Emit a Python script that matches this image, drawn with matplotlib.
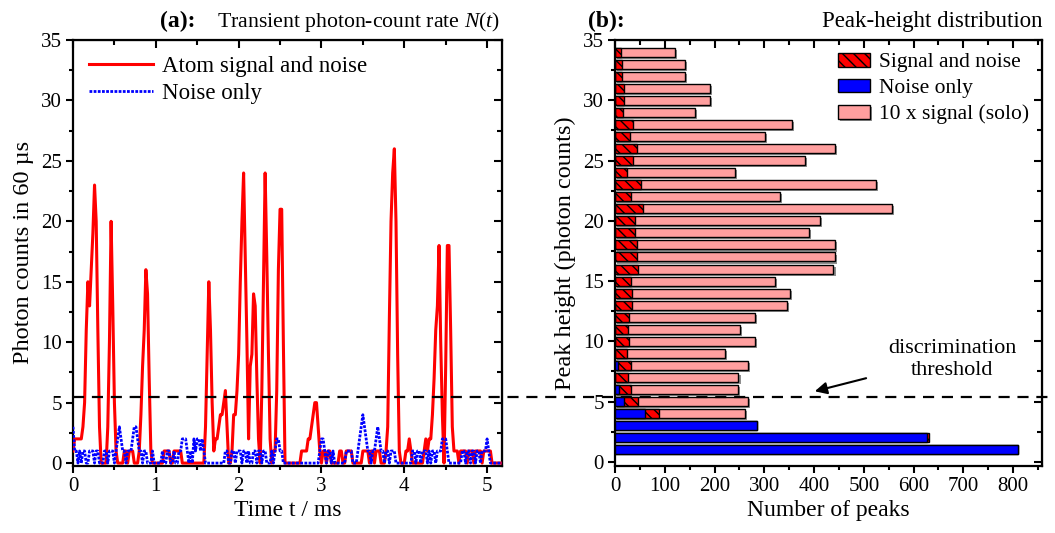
import numpy as np
import matplotlib
matplotlib.use('Agg')
import matplotlib.pyplot as plt
import matplotlib.patheffects as pe
import matplotlib.transforms as mtransforms
from matplotlib.lines import Line2D
from matplotlib.ticker import MultipleLocator

plt.rcParams['font.family'] = ['Liberation Serif', 'DejaVu Serif']
plt.rcParams['mathtext.fontset'] = 'custom'
plt.rcParams['mathtext.rm'] = 'Liberation Serif'
plt.rcParams['mathtext.it'] = 'Liberation Serif:italic'
plt.rcParams['hatch.linewidth'] = 1.0

# ---- panel (a): photon counts per 60 us window, sampled every 20 us ----
dt = 0.02  # ms
atom_counts = [
    1, 2, 2, 2, 2, 2, 3, 5, 11, 15, 13, 16, 19, 23, 20, 11, 3, 0, 0, 0,
    0, 3, 10, 20, 13, 5, 1, 0, 0, 0, 0, 1, 1, 0, 1, 1, 1, 0, 0, 0,
    1, 4, 8, 11, 16, 14, 7, 1, 0, 0, 0, 0, 0, 0, 0, 1, 1, 1, 1, 0,
    0, 1, 1, 1, 1, 1, 0, 0, 0, 0, 0, 0, 0, 0, 0, 0, 0, 0, 0, 0,
    3, 9, 15, 11, 5, 1, 2, 2, 3, 4, 4, 5, 6, 3, 0, 0, 1, 4, 4, 6,
    9, 15, 20, 24, 17, 10, 2, 8, 9, 14, 13, 7, 2, 0, 6, 15, 24, 17, 9, 2,
    0, 1, 1, 6, 16, 21, 21, 10, 0, 0, 0, 0, 0, 0, 0, 0, 0, 0, 1, 1,
    1, 1, 2, 2, 3, 4, 5, 5, 3, 1, 0, 1, 1, 0, 1, 1, 0, 0, 0, 0,
    0, 1, 1, 0, 0, 1, 1, 1, 1, 0, 0, 0, 0, 0, 0, 1, 1, 1, 1, 0,
    1, 1, 0, 1, 1, 1, 0, 0, 0, 1, 3, 12, 20, 24, 26, 20, 9, 1, 0, 0,
    0, 1, 1, 2, 1, 0, 0, 0, 0, 0, 0, 0, 1, 2, 1, 2, 2, 4, 7, 11,
    13, 18, 10, 4, 0, 8, 18, 18, 11, 3, 1, 1, 1, 0, 1, 1, 1, 1, 0, 1,
    1, 1, 0, 1, 1, 1, 1, 0, 1, 1, 1, 1, 1, 0, 0, 0, 0, 0, 0, 0,
]
noise_counts = [
    3, 1, 1, 0, 1, 0, 1, 1, 0, 0, 1, 1, 1, 0, 1, 1, 0, 0, 0, 1,
    1, 0, 1, 1, 1, 0, 1, 2, 3, 2, 1, 1, 0, 1, 1, 1, 2, 3, 3, 2,
    1, 1, 0, 1, 1, 0, 0, 0, 1, 0, 0, 0, 0, 0, 1, 0, 0, 1, 1, 0,
    0, 1, 0, 0, 1, 1, 2, 2, 2, 1, 0, 1, 0, 2, 1, 2, 2, 1, 2, 1,
    0, 0, 0, 0, 0, 0, 0, 0, 0, 0, 0, 0, 1, 1, 0, 0, 1, 1, 0, 1,
    1, 1, 0, 1, 1, 0, 1, 0, 0, 1, 1, 0, 1, 1, 0, 1, 1, 0, 0, 0,
    1, 0, 1, 2, 2, 1, 1, 0, 0, 0, 0, 0, 0, 0, 0, 0, 0, 0, 0, 0,
    0, 0, 0, 0, 0, 0, 0, 0, 0, 1, 2, 2, 1, 0, 1, 1, 0, 1, 0, 0,
    0, 0, 0, 0, 0, 1, 1, 1, 1, 0, 0, 0, 1, 2, 3, 4, 3, 2, 1, 1,
    0, 1, 1, 2, 3, 2, 1, 1, 0, 1, 1, 0, 1, 1, 1, 0, 0, 0, 0, 0,
    0, 0, 0, 0, 0, 1, 1, 0, 1, 1, 0, 1, 1, 1, 0, 1, 0, 1, 1, 0,
    1, 1, 1, 2, 2, 2, 1, 0, 0, 0, 0, 0, 0, 0, 0, 1, 1, 0, 1, 1,
    0, 1, 1, 0, 1, 1, 0, 1, 1, 1, 2, 1, 0, 0, 0, 0, 0, 0, 0, 0,
]
threshold = 5.5

# ---- panel (b): peak-height histogram ----
peak_height = list(range(1, 35))
signal_noise = [810, 630, 285, 89, 47, 33, 26, 33, 24, 29, 26, 29, 35, 35, 32, 46, 44,
                44, 40, 41, 56, 33, 53, 24, 37, 44, 30, 36, 16, 19, 19, 14, 14, 12]
noise_only = [810, 626, 285, 61, 19, 8, 0, 7, 0, 0, 0, 0, 0, 0, 0, 0, 0,
              0, 0, 0, 0, 0, 0, 0, 0, 0, 0, 0, 0, 0, 0, 0, 0, 0]
signal_x10 = [0, 0, 0, 262, 268, 247, 248, 267, 221, 281, 251, 281, 345, 352, 321, 439, 442,
              442, 389, 412, 557, 332, 524, 241, 382, 442, 301, 355, 161, 191, 191, 141, 141, 121]

fig = plt.figure(figsize=(10.55, 5.33), dpi=100)
ax1 = fig.add_axes([73 / 1055, 67.5 / 533, 429 / 1055, 425.5 / 533])
ax2 = fig.add_axes([615 / 1055, 67.5 / 533, 427 / 1055, 425.5 / 533])

t = np.arange(len(atom_counts)) * dt
ax1.plot(t, atom_counts, color='#ff0000', lw=2.2, label='Atom signal and noise', zorder=3)
ax1.plot(t, noise_counts, color='#0000ff', lw=2.0, ls=(0, (1, 0.5)), label='Noise only', zorder=4)
ax1.set_xlim(0, 5.18)
ax1.set_ylim(-0.2, 35)
ax1.set_xlabel('Time t / ms', fontsize=17, labelpad=3)
ax1.set_ylabel('Photon counts in 60 µs', fontsize=17.5, labelpad=5)
ax1.legend(loc='upper left', frameon=False, fontsize=16.5, handlelength=2.8,
           borderaxespad=0.3, labelspacing=0.25, handletextpad=0.4)

ax2.barh(peak_height, signal_x10, height=0.75, color='#ff9f9f', edgecolor='black', lw=1.0,
         label='10 x signal (solo)', zorder=2,
         path_effects=[pe.SimplePatchShadow(offset=(1.5, -1.5), shadow_rgbFace='0.45', alpha=0.8),
                       pe.Normal()])
ax2.barh(peak_height, signal_noise, height=0.75, color='#ff0000', edgecolor='black', lw=1.0,
         hatch='\\\\\\', label='Signal and noise', zorder=3)
ax2.barh(peak_height, noise_only, height=0.75, color='#0000ff', edgecolor='black', lw=1.0,
         label='Noise only', zorder=4)
ax2.set_xlim(0, 858)
ax2.set_ylim(-0.3, 35)
ax2.set_xlabel('Number of peaks', fontsize=17, labelpad=3)
ax2.set_ylabel('Peak height (photon counts)', fontsize=17.5, labelpad=5)
h, l = ax2.get_legend_handles_labels()
ax2.legend([h[1], h[2], h[0]], [l[1], l[2], l[0]], loc='upper right', frameon=False,
           fontsize=15.5, handlelength=1.5, handleheight=0.6, borderaxespad=0.2,
           labelspacing=0.3, handletextpad=0.4)

for ax, xmaj, xmin in ((ax1, 1, 0.5), (ax2, 100, 50)):
    ax.xaxis.set_major_locator(MultipleLocator(xmaj))
    ax.xaxis.set_minor_locator(MultipleLocator(xmin))
    ax.yaxis.set_major_locator(MultipleLocator(5))
    ax.yaxis.set_minor_locator(MultipleLocator(2.5))
    ax.tick_params(which='both', direction='out', width=1.5, labelsize=15)
    ax.tick_params(which='major', length=5, pad=3)
    ax.tick_params(which='minor', length=3)
    for s in ax.spines.values():
        s.set_linewidth(1.6)
    top = ax.secondary_xaxis('top')
    top.xaxis.set_major_locator(MultipleLocator(xmaj))
    top.xaxis.set_minor_locator(MultipleLocator(xmin))
    top.tick_params(which='both', direction='in', width=1.5, labeltop=False)
    top.tick_params(which='major', length=6)
    top.tick_params(which='minor', length=3.5)
    right = ax.secondary_yaxis('right')
    right.yaxis.set_major_locator(MultipleLocator(5))
    right.yaxis.set_minor_locator(MultipleLocator(2.5))
    right.tick_params(which='both', direction='in', width=1.5, labelright=False)
    right.tick_params(which='major', length=6)
    right.tick_params(which='minor', length=3.5)

# threshold line running across both panels
trans = mtransforms.blended_transform_factory(fig.transFigure, ax1.transData)
fig.add_artist(Line2D([73 / 1055, 1.0], [threshold, threshold], transform=trans,
                      color='black', lw=1.6, ls=(0, (5, 3.5))))

ax2.annotate('', xy=(396, 5.8), xytext=(510, 7.0),
             arrowprops=dict(arrowstyle='-|>', color='black', lw=1.5, mutation_scale=18))
ax2.text(678, 8.5, 'discrimination\nthreshold', ha='center', va='center',
         fontsize=16, linespacing=1.2)

# panel titles
fig.text(160 / 1055, 506 / 533, '(a):', fontsize=17, fontweight='bold', va='baseline')
fig.text(217 / 1055, 506 / 533, r'Transient photon-count rate $\mathit{N(t)}$',
         fontsize=15.7, va='baseline')
fig.text(588 / 1055, 506 / 533, '(b):', fontsize=17, fontweight='bold', va='baseline')
fig.text(1042 / 1055, 506 / 533, 'Peak-height distribution', fontsize=16.5,
         va='baseline', ha='right')

fig.savefig('out.png', dpi=100)
